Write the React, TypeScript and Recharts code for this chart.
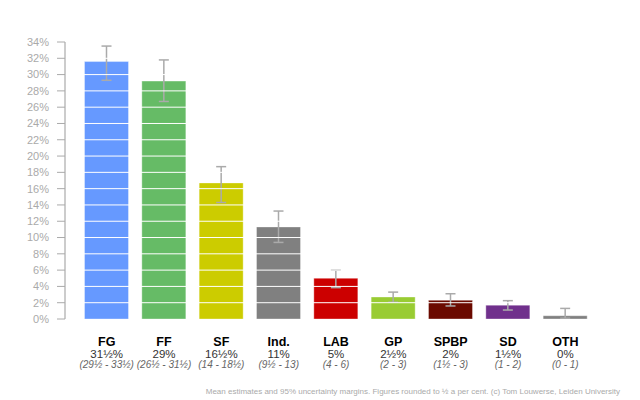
import React from 'react';
import { BarChart, Bar, XAxis, YAxis, Cell, ErrorBar, ReferenceLine } from 'recharts';

const parties = ['FG', 'FF', 'SF', 'Ind.', 'LAB', 'GP', 'SPBP', 'SD', 'OTH'];
const means = [31.6, 29.2, 16.7, 11.3, 5.0, 2.7, 2.3, 1.7, 0.4];
const lower = [29.3, 26.7, 14.3, 9.4, 3.85, 2.05, 1.6, 1.1, 0.1];
const upper = [33.5, 31.8, 18.7, 13.25, 6.0, 3.3, 3.1, 2.25, 1.3];
const valueLabels = ['31½%', '29%', '16½%', '11%', '5%', '2½%', '2%', '1½%', '0%'];
const rangeLabels = ['(29½ - 33½)', '(26½ - 31½)', '(14 - 18½)', '(9½ - 13)', '(4 - 6)', '(2 - 3)', '(1½ - 3)', '(1 - 2)', '(0 - 1)'];
const colors = ['#6699ff', '#66bb66', '#cccc00', '#808080', '#cc0000', '#99cc33', '#6b0a00', '#70308c', '#808080'];
const yTicks = [0, 2, 4, 6, 8, 10, 12, 14, 16, 18, 20, 22, 24, 26, 28, 30, 32, 34];

const data = parties.map((p, i) => ({
  party: p,
  mean: means[i],
  err: [means[i] - lower[i], upper[i] - means[i]],
  value: valueLabels[i],
  range: rangeLabels[i],
}));

const font = 'Arial, "Liberation Sans", sans-serif';

function PartyTick(props: any) {
  const { x, y, index } = props;
  const d = data[index];
  return (
    <g transform={`translate(${x},${y})`} fontFamily={font}>
      <text x={0} y={27} textAnchor="middle" fontSize={12.5} fontWeight="bold" fill="#000">{d.party}</text>
      <text x={0} y={38.5} textAnchor="middle" fontSize={11.5} fill="#333">{d.value}</text>
      <text x={0} y={49} textAnchor="middle" fontSize={10} fontStyle="italic" fill="#666">{d.range}</text>
    </g>
  );
}

export default function App() {
  return (
    <div style={{ position: 'absolute', left: 0, top: 0, width: 640, height: 400, background: '#fff' }}>
      <BarChart
        width={640}
        height={400}
        data={data}
        margin={{ top: 42, right: 33, bottom: 21, left: 0 }}
        barCategoryGap={6.5}
      >
        <XAxis
          dataKey="party"
          axisLine={false}
          tickLine={false}
          tickSize={0}
          tickMargin={0}
          interval={0}
          height={60}
          padding={{ left: 13, right: 13 }}
          tick={<PartyTick />}
        />
        <YAxis
          domain={[0, 34]}
          ticks={yTicks}
          interval={0}
          width={65}
          tickFormatter={(v) => `${v}%`}
          tick={{ fill: '#aaa', fontSize: 11, fontFamily: font }}
          tickLine={{ stroke: '#aaa' }}
          tickSize={8}
          tickMargin={8}
          axisLine={{ stroke: '#999' }}
        />
        <Bar dataKey="mean" isAnimationActive={false} stroke="#ffffff" strokeOpacity={0.35}>
          {data.map((d, i) => (
            <Cell key={d.party} fill={colors[i]} />
          ))}
          <ErrorBar dataKey="err" stroke="#aaa" strokeWidth={1.5} width={5} isAnimationActive={false} />
        </Bar>
        {yTicks.slice(1).map((t) => (
          <ReferenceLine key={t} y={t} stroke="#ffffff" strokeWidth={1} />
        ))}
      </BarChart>
      <div
        style={{
          position: 'absolute',
          right: 20,
          top: 387,
          fontFamily: font,
          fontSize: 8,
          color: '#aaa',
          whiteSpace: 'nowrap',
        }}
      >
        Mean estimates and 95% uncertainty margins. Figures rounded to ½ a per cent. (c) Tom Louwerse, Leiden University
      </div>
    </div>
  );
}
